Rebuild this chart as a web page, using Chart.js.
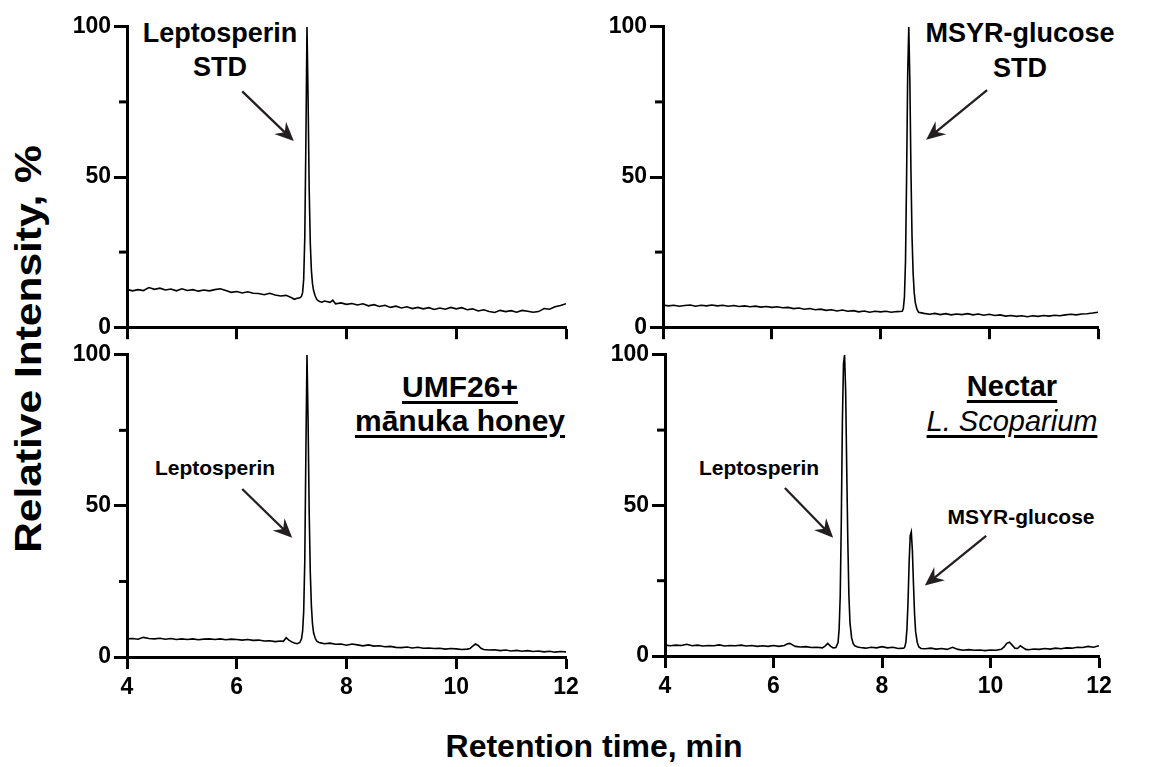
<!DOCTYPE html>
<html>
<head>
<meta charset="utf-8">
<script src="https://cdn.jsdelivr.net/npm/chart.js@4.4.1/dist/chart.umd.min.js"></script>
<style>
html,body{margin:0;padding:0;background:#fff;}
#wrap{position:relative;width:1149px;height:767px;overflow:hidden;font-family:"Liberation Sans",Arial,Helvetica,sans-serif;color:#000;}
#wrap canvas{position:absolute;}
.t{position:absolute;white-space:nowrap;line-height:1;transform:translateX(-50%);}
.u{text-decoration:underline;text-decoration-thickness:2.5px;text-underline-offset:4px;}
</style>
</head>
<body>
<div id="wrap"></div>
<script>
// ---------------- DATA ----------------
const xTicks = [4, 6, 8, 10, 12];
const yTicks = [0, 50, 100];
const yMinorTicks = [25, 75];

// Panel A: Leptosperin STD
const timeA = [4.0,4.1,4.2,4.3,4.4,4.5,4.6,4.7,4.8,4.9,5.0,5.1,5.2,5.3,5.4,5.5,5.6,5.7,5.8,5.9,6.0,6.1,6.2,6.3,6.4,6.5,6.6,6.7,6.8,6.9,7.0,
  7.05,7.1,7.15,7.18,7.2,7.22,7.24,7.26,7.28,7.3,7.32,7.34,7.36,7.38,7.4,7.43,7.46,7.5,7.55,7.6,
  7.7,7.75,7.8,
  7.9,8.0,8.1,8.2,8.3,8.4,8.5,8.6,8.7,8.8,8.9,9.0,9.1,9.2,9.3,9.4,9.5,9.6,9.7,9.8,9.9,10.0,10.1,10.2,10.3,10.4,10.5,10.6,10.7,10.8,10.9,11.0,11.1,11.2,11.3,11.4,11.5,11.6,11.7,11.8,11.9,12.0];
const intensityA = [12.6,12.1,12.5,12.2,13.2,12.6,13.0,12.4,12.7,12.1,12.8,12.2,12.5,12.0,12.4,12.1,12.5,12.8,12.2,11.6,11.9,11.4,11.8,11.3,11.2,10.8,11.3,10.7,10.4,10.6,9.8,
  9.3,9.6,9.8,10.3,11.5,16,30,62,100,76,46,28,19,14.5,12.2,10.4,9.2,8.6,8.3,8.7,
  8.3,9.0,7.8,
  8.1,7.6,7.9,7.4,7.8,7.1,7.5,6.9,7.3,6.6,7.0,6.4,6.8,6.2,6.6,6.1,6.5,5.9,6.4,6.0,6.6,6.1,6.5,5.8,6.1,5.4,5.8,5.2,4.9,5.6,5.2,5.5,5.0,5.6,5.3,5.0,5.2,6.2,6.0,6.8,7.2,7.8];

// Panel B: MSYR-glucose STD
const timeB = [4.0,4.1,4.2,4.3,4.4,4.5,4.6,4.7,4.8,4.9,5.0,5.1,5.2,5.3,5.4,5.5,5.6,5.7,5.8,5.9,6.0,6.1,6.2,6.3,6.4,6.5,6.6,6.7,6.8,6.9,7.0,7.1,7.2,7.3,7.4,7.5,7.6,7.7,7.8,7.9,8.0,8.1,8.2,8.3,8.4,
  8.42,8.44,8.46,8.48,8.5,8.52,8.54,8.56,8.58,8.6,8.62,8.64,8.67,8.7,
  8.8,8.9,9.0,9.1,9.2,9.3,9.4,9.5,9.6,9.7,9.8,9.9,10.0,10.1,10.2,10.3,10.4,10.5,10.6,10.7,10.8,10.9,11.0,11.1,11.2,11.3,11.4,11.5,11.6,11.7,11.8,11.9,12.0];
const intensityB = [7.4,7.1,7.3,7.0,7.2,7.4,7.0,7.3,7.1,7.4,7.1,7.3,7.0,7.2,6.9,7.1,6.8,7.0,6.7,6.9,6.6,6.8,6.5,6.6,6.2,6.4,6.0,6.2,5.8,6.0,5.6,5.8,5.4,5.7,5.3,5.5,5.1,5.4,5.0,5.3,5.1,5.3,5.0,5.2,5.3,
  6.2,10,22,50,84,100,82,52,30,18,11.5,8.2,6.0,5.0,
  4.6,4.3,4.6,4.2,4.5,4.1,4.4,4.2,4.5,4.1,4.4,4.0,4.3,3.9,4.1,3.7,3.9,3.6,3.8,3.5,3.8,3.6,3.9,3.7,4.0,3.8,4.1,4.3,4.1,4.4,4.5,4.7,5.0];

// Panel C: UMF26+ manuka honey
const timeC = [4.0,4.1,4.2,4.3,4.4,4.5,4.6,4.7,4.8,4.9,5.0,5.1,5.2,5.3,5.4,5.5,5.6,5.7,5.8,5.9,6.0,6.1,6.2,6.3,6.4,6.5,6.6,6.7,6.8,
  6.85,6.9,6.95,7.0,7.05,7.1,7.15,7.18,7.2,7.22,7.24,7.26,7.28,7.3,7.32,7.34,7.36,7.38,7.4,7.43,7.46,7.5,7.55,
  7.6,7.7,7.8,7.9,8.0,8.1,8.2,8.3,8.4,8.5,8.6,8.7,8.8,8.9,9.0,9.1,9.2,9.3,9.4,9.5,9.6,9.7,9.8,9.9,10.0,10.1,10.2,
  10.25,10.3,10.35,10.4,10.45,
  10.5,10.6,10.7,10.8,10.9,11.0,11.1,11.2,11.3,11.4,11.5,11.6,11.7,11.8,11.9,12.0];
const intensityC = [6.0,6.1,5.9,6.5,6.1,6.0,6.2,5.9,6.1,5.8,6.0,5.8,6.0,5.7,5.9,6.0,5.8,6.0,5.7,5.9,5.8,5.6,5.8,5.5,5.6,5.3,5.4,5.1,5.3,
  5.2,6.4,5.6,5.0,4.6,4.4,4.8,6.0,8.5,15,32,68,100,78,48,28,17,11,8,6.2,5.2,4.8,4.6,
  4.4,4.6,4.2,4.3,3.9,4.3,4.0,3.7,4.0,3.6,3.7,3.4,3.5,3.2,3.1,3.3,3.0,3.2,2.9,3.0,2.8,2.9,2.6,2.8,2.7,2.5,2.6,
  2.8,3.6,4.3,3.8,2.9,
  2.5,2.3,2.4,2.1,2.3,2.0,2.2,1.9,2.1,1.8,2.0,1.7,1.9,1.6,1.8,1.7];

// Panel D: Nectar L. scoparium
const timeD = [4.0,4.1,4.2,4.3,4.4,4.5,4.6,4.7,4.8,4.9,5.0,5.1,5.2,5.3,5.4,5.5,5.6,5.7,5.8,5.9,6.0,6.1,
  6.2,6.25,6.3,6.35,6.4,
  6.5,6.6,6.7,6.8,6.9,
  6.95,7.0,7.05,7.1,7.15,7.19,7.21,7.23,7.25,7.27,7.29,7.31,7.33,7.35,7.37,7.39,7.41,7.44,7.47,7.5,7.55,
  7.6,7.7,7.8,7.9,8.0,8.1,8.2,8.3,8.4,
  8.42,8.44,8.46,8.48,8.5,8.52,8.54,8.56,8.58,8.6,8.62,8.65,8.68,8.72,
  8.8,8.9,9.0,9.1,9.2,9.3,9.4,9.5,9.6,9.7,9.8,9.9,10.0,10.1,10.2,
  10.25,10.3,10.35,10.4,10.45,10.5,10.55,10.6,10.65,
  10.7,10.8,10.9,11.0,11.1,11.2,11.3,11.4,11.5,11.6,11.7,11.8,11.9,12.0];
const intensityD = [3.6,3.4,3.6,3.5,3.9,3.4,3.6,3.3,3.5,3.4,3.7,3.3,3.5,3.4,3.6,3.3,3.5,3.2,3.4,3.2,3.5,3.2,
  3.5,4.0,4.2,3.7,3.2,
  3.0,3.1,2.8,2.9,2.7,
  3.3,4.2,3.3,2.7,2.8,4.5,9,20,45,78,97,100,88,62,38,20,11,6,4,3.4,3.0,
  2.8,2.6,2.9,2.7,3.1,2.7,2.9,2.5,2.6,
  3.0,4.5,9,18,31,40,41.2,35,24,14,8,4.5,3.0,2.5,
  2.4,2.6,2.3,2.5,2.2,2.9,2.2,1.9,2.1,1.9,2.0,1.8,2.0,1.9,2.2,
  3.0,4.2,4.6,3.6,2.6,2.5,3.4,2.8,2.2,
  2.1,2.3,2.2,2.5,2.3,2.6,2.4,2.7,2.6,2.9,2.8,3.2,2.9,3.4];

// ---------------- LAYOUT ----------------
const FONT = 'Liberation Sans, Arial, sans-serif';
const panels = [
  {l:127, r:566, t:25, b:328, xLabels:false, times:timeA, vals:intensityA,
   arrows:[[6.10,78.5,7.04,62.0]]},
  {l:663, r:1098, t:25, b:328, xLabels:false, times:timeB, vals:intensityB,
   arrows:[[9.96,78.9,8.84,62.4]]},
  {l:127, r:566, t:353, b:657, xLabels:true, times:timeC, vals:intensityC,
   arrows:[[6.10,55.6,7.01,39.5]]},
  {l:665, r:1099, t:353, b:656, xLabels:true, times:timeD, vals:intensityD,
   arrows:[[6.21,55.8,7.10,39.3],[9.92,39.9,8.79,23.4]]}
];

const texts = [
  {s:'Leptosperin', x:220, y:43, f:27, w:'bold'},
  {s:'STD', x:220, y:77, f:27, w:'bold'},
  {s:'MSYR-glucose', x:1020, y:43, f:27, w:'bold'},
  {s:'STD', x:1020, y:78, f:27, w:'bold'},
  {s:'UMF26+', x:460, y:397, f:30, w:'bold', u:true},
  {s:'mānuka honey', x:460, y:431, f:30, w:'bold', u:true},
  {s:'Leptosperin', x:215, y:475, f:21, w:'bold'},
  {s:'Nectar', x:1012, y:397, f:29, w:'bold', u:true},
  {s:'L. Scoparium', x:1012, y:432, f:29, w:'normal', i:true, u:true},
  {s:'Leptosperin', x:759, y:475, f:21, w:'bold'},
  {s:'MSYR-glucose', x:1021, y:524, f:21, w:'bold'},
  {s:'Retention time, min', x:594, y:757, f:32, w:'bold'}
];

const wrap = document.getElementById('wrap');
texts.forEach(o => {
  const d = document.createElement('div');
  d.className = 't' + (o.u ? ' u' : '');
  d.textContent = o.s;
  d.style.left = o.x + 'px';
  d.style.top = (o.y - 0.8465 * o.f) + 'px';
  d.style.fontSize = o.f + 'px';
  d.style.fontWeight = o.w;
  if (o.i) d.style.fontStyle = 'italic';
  wrap.appendChild(d);
});
const yt = document.createElement('div');
yt.textContent = 'Relative Intensity, %';
yt.style.cssText = 'position:absolute;left:29px;top:349px;white-space:nowrap;line-height:1;font-size:36px;font-weight:bold;transform:translate(-50%,-50%) rotate(-90deg) scaleX(1.18);';
wrap.appendChild(yt);

function drawArrow(ctx, x0, y0, x1, y1) {
  const dx = x1 - x0, dy = y1 - y0, len = Math.hypot(dx, dy);
  const ux = dx / len, uy = dy / len, px = -uy, py = ux;
  const L = 19, W = 8.5;
  ctx.strokeStyle = '#231f20'; ctx.fillStyle = '#231f20';
  ctx.lineWidth = 2.3;
  ctx.beginPath(); ctx.moveTo(x0, y0); ctx.lineTo(x1 - ux * 11, y1 - uy * 11); ctx.stroke();
  ctx.beginPath();
  ctx.moveTo(x1, y1);
  ctx.lineTo(x1 - ux * L + px * W, y1 - uy * L + py * W);
  ctx.lineTo(x1 - ux * L * 0.66, y1 - uy * L * 0.66);
  ctx.lineTo(x1 - ux * L - px * W, y1 - uy * L - py * W);
  ctx.closePath(); ctx.fill();
}

const extras = {
  id: 'extras',
  afterDraw(chart, args, opts) {
    const ctx = chart.ctx, xs = chart.scales.x, ys = chart.scales.y;
    const left = chart.chartArea.left;
    ctx.save();
    ctx.strokeStyle = '#000'; ctx.lineWidth = 3; ctx.lineCap = 'butt';
    yMinorTicks.forEach(v => {
      const py = ys.getPixelForValue(v);
      ctx.beginPath(); ctx.moveTo(left - 8, py); ctx.lineTo(left, py); ctx.stroke();
    });
    (opts.arrows || []).forEach(a => drawArrow(ctx,
      xs.getPixelForValue(a[0]), ys.getPixelForValue(a[1]),
      xs.getPixelForValue(a[2]), ys.getPixelForValue(a[3])));
    ctx.restore();
  }
};

panels.forEach(p => {
  const xH = p.xLabels ? 50 : 16;
  const W = p.r - p.l + 90, H = p.b - p.t + 15 + xH;
  const c = document.createElement('canvas');
  c.width = W; c.height = H;
  c.style.width = W + 'px'; c.style.height = H + 'px';
  c.style.left = (p.l - 70) + 'px'; c.style.top = (p.t - 15) + 'px';
  wrap.appendChild(c);
  new Chart(c, {
    type: 'line',
    data: { datasets: [{
      data: p.times.map((t, i) => ({ x: t, y: p.vals[i] })),
      borderColor: '#000', borderWidth: 1.6, pointRadius: 0, tension: 0, fill: false
    }]},
    options: {
      responsive: false, animation: false, events: [],
      layout: { padding: { top: 15, right: 20, left: 0, bottom: 0 } },
      plugins: { legend: { display: false }, tooltip: { enabled: false }, extras: { arrows: p.arrows } },
      scales: {
        x: {
          type: 'linear', min: xTicks[0], max: xTicks[xTicks.length - 1],
          afterFit: s => { s.height = xH; },
          afterBuildTicks: s => { s.ticks = xTicks.map(v => ({ value: v })); },
          ticks: { display: p.xLabels, color: '#000', padding: 5, maxRotation: 0, autoSkip: false,
                   font: { family: FONT, size: 23, weight: 'bold' } },
          grid: { display: true, drawOnChartArea: false, drawTicks: true, tickLength: 12, tickWidth: 3, tickColor: '#000' },
          border: { display: true, color: '#000', width: 3 }
        },
        y: {
          type: 'linear', min: yTicks[0], max: yTicks[yTicks.length - 1],
          afterFit: s => { s.width = 70; },
          afterBuildTicks: s => { s.ticks = yTicks.map(v => ({ value: v })); },
          ticks: { color: '#000', padding: 3, font: { family: FONT, size: 23, weight: 'bold' } },
          grid: { display: true, drawOnChartArea: false, drawTicks: true, tickLength: 13, tickWidth: 3, tickColor: '#000' },
          border: { display: true, color: '#000', width: 3 }
        }
      }
    },
    plugins: [extras]
  });
});
</script>
</body>
</html>
